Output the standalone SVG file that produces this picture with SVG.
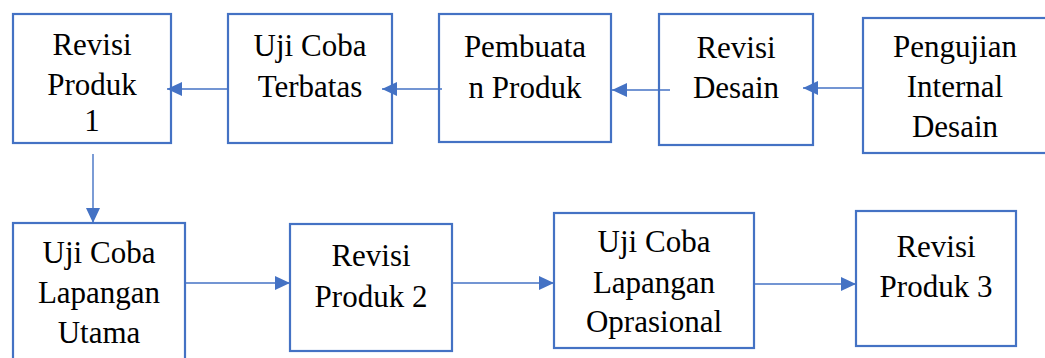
<svg xmlns="http://www.w3.org/2000/svg" width="1045" height="358" viewBox="0 0 1045 358">
<defs>
<marker id="ah" viewBox="0 0 15 14" refX="15" refY="7" markerWidth="15" markerHeight="14" markerUnits="userSpaceOnUse" orient="auto">
<path d="M0,0 L15,7 L0,14 Z" fill="#4472C4"/>
</marker>
<style>
.box{fill:#fff;stroke:#4472C4;stroke-width:2.2}
.t{font-family:"Liberation Serif","Times New Roman",serif;font-size:31px;fill:#000;text-anchor:middle}
.c{stroke:#4472C4;stroke-width:1.4;fill:none;marker-end:url(#ah)}
</style>
</defs>
<rect width="1045" height="358" fill="#fff"/>
<g id="n1"><rect class="box" x="13" y="14" width="158" height="129"/>
<text class="t" x="92" y="55">Revisi</text><text class="t" x="92" y="95">Produk</text><text class="t" x="92" y="131">1</text></g>
<g id="n2"><rect class="box" x="228" y="14" width="164" height="129"/>
<text class="t" x="310" y="56">Uji Coba</text><text class="t" x="310" y="97">Terbatas</text></g>
<g id="n3"><rect class="box" x="439" y="14" width="172" height="128"/>
<text class="t" x="525" y="57">Pembuata</text><text class="t" x="525" y="98">n Produk</text></g>
<g id="n4"><rect class="box" x="659" y="14" width="154" height="131"/>
<text class="t" x="736" y="58">Revisi</text><text class="t" x="736" y="98">Desain</text></g>
<g id="n5"><rect class="box" x="863" y="18" width="184" height="135"/>
<text class="t" x="955" y="57">Pengujian</text><text class="t" x="955" y="97">Internal</text><text class="t" x="955" y="137">Desain</text></g>
<g id="n6"><rect class="box" x="13" y="223" width="172" height="145"/>
<text class="t" x="99" y="263">Uji Coba</text><text class="t" x="99" y="303">Lapangan</text><text class="t" x="99" y="343">Utama</text></g>
<g id="n7"><rect class="box" x="290" y="224" width="162" height="127"/>
<text class="t" x="371" y="266">Revisi</text><text class="t" x="371" y="307">Produk 2</text></g>
<g id="n8"><rect class="box" x="554" y="213" width="200" height="135"/>
<text class="t" x="654" y="252">Uji Coba</text><text class="t" x="654" y="293">Lapangan</text><text class="t" x="654" y="332">Oprasional</text></g>
<g id="n9"><rect class="box" x="856" y="211" width="160" height="135"/>
<text class="t" x="936" y="257">Revisi</text><text class="t" x="936" y="297">Produk 3</text></g>
<g id="connectors">
<line class="c" x1="228" y1="89" x2="167" y2="89"/>
<line class="c" x1="442" y1="89" x2="382" y2="89"/>
<line class="c" x1="670" y1="90" x2="612" y2="90"/>
<line class="c" x1="863" y1="88" x2="803" y2="88"/>
<line class="c" x1="93" y1="154" x2="93" y2="223"/>
<line class="c" x1="185" y1="283" x2="290" y2="283"/>
<line class="c" x1="452" y1="283" x2="554" y2="283"/>
<line class="c" x1="754" y1="284" x2="856" y2="284"/>
</g>
</svg>
